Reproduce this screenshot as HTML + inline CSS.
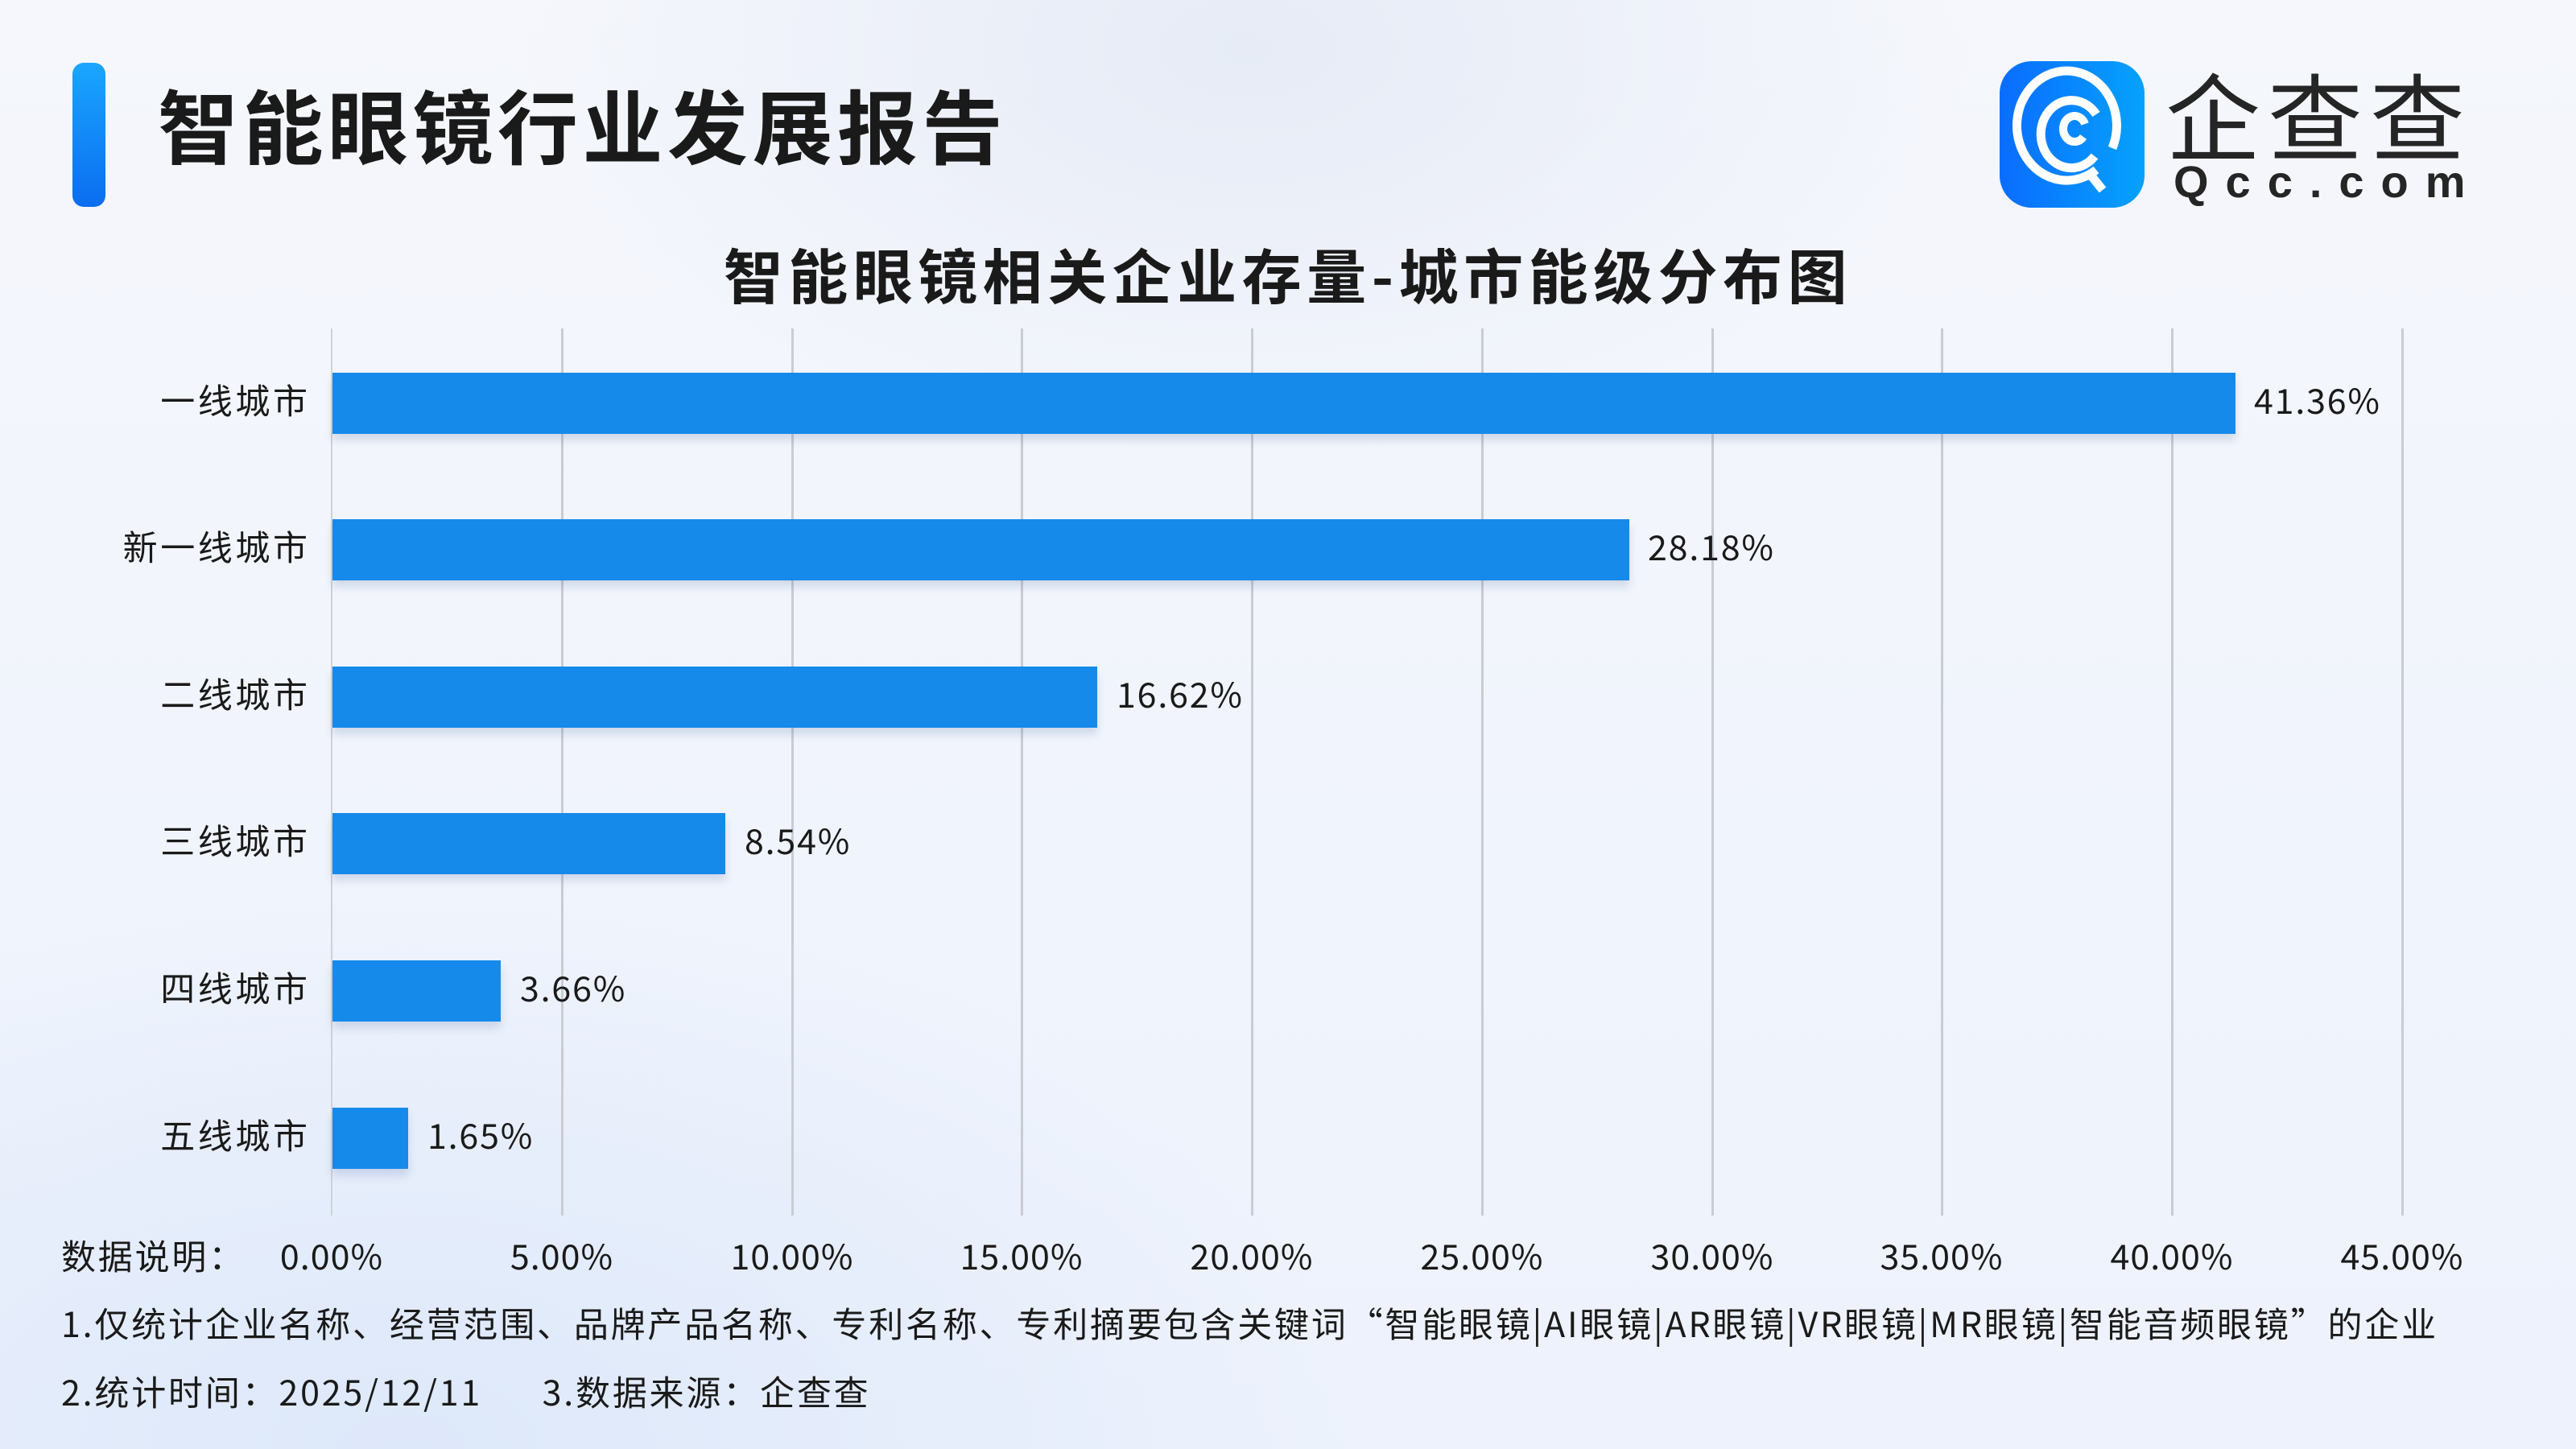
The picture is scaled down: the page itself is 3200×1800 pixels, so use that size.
<!DOCTYPE html>
<html><head><meta charset="utf-8"><style>
*{margin:0;padding:0;box-sizing:border-box}
body{width:3200px;height:1800px;overflow:hidden;position:relative;font-family:"Liberation Sans","Noto Sans CJK SC",sans-serif;color:#1a1a1a;
background:radial-gradient(ellipse 900px 500px at 1550px 60px,#e6ebf6 0%,rgba(230,235,246,0) 100%),radial-gradient(ellipse 1200px 700px at 500px 1800px,#dde8fa 0%,rgba(221,232,250,0) 100%),linear-gradient(180deg,#f5f7fc 0%,#edf2fc 100%)}
.a{position:absolute;white-space:nowrap}
.grid{position:absolute;top:408px;height:1102px;width:3px;background:#c9ccd3}
.bar{position:absolute;left:413px;height:76px;background:#168aea;box-shadow:0 8px 10px rgba(60,90,150,0.18)}
.lab{position:absolute;right:2818px;font-size:43px;line-height:50px;font-family:"Noto Sans CJK SC",sans-serif;letter-spacing:3.6px;margin-right:-3.6px}
.val{position:absolute;font-size:43px;line-height:50px;font-family:"Noto Sans CJK SC",sans-serif;letter-spacing:1.8px}
.tick{position:absolute;top:1534px;font-size:43px;line-height:50px;font-family:"Noto Sans CJK SC",sans-serif;transform:translateX(-50%);letter-spacing:1px}
.fn{position:absolute;left:76px;font-size:43px;line-height:50px;font-family:"Noto Sans CJK SC",sans-serif;letter-spacing:2.8px;white-space:nowrap}
</style></head><body>
<div class="a" style="left:90px;top:78px;width:41px;height:179px;border-radius:14px;background:linear-gradient(180deg,#1aa6ff,#0b6df0)"></div>
<div class="a" style="left:196px;top:88px;font-size:100px;line-height:130px;font-weight:bold;font-family:'Noto Sans CJK SC',sans-serif;letter-spacing:5.5px">智能眼镜行业发展报告</div>
<div class="a" style="left:2484px;top:76px;width:180px;height:182px;border-radius:40px;background:linear-gradient(90deg,#0a6cff,#06a2fc)">
<svg width="180" height="182" viewBox="0 0 180 182"><g fill="none" stroke="#fff" stroke-linecap="butt"><path d="M120 135 A62 68 0 1 1 140 108" stroke-width="11"/><path d="M118 118 A38 42 0 1 1 120 66" stroke-width="11"/><path d="M104 94 A14 16 0 1 1 106 78" stroke-width="10"/><path d="M112 140 L128 160" stroke-width="11"/></g></svg></div>
<div class="a" style="left:2690px;top:70px;font-size:118px;line-height:140px;font-family:'Noto Sans CJK SC',sans-serif;color:#252525;letter-spacing:9px">企查查</div>
<div class="a" style="left:2700px;top:196px;font-size:56px;line-height:60px;font-weight:bold;color:#252525;letter-spacing:21px">Qcc.com</div>
<div class="a" style="left:0;width:3200px;top:292px;text-align:center;font-size:74px;line-height:96px;font-weight:bold;font-family:'Noto Sans CJK SC',sans-serif;letter-spacing:6.5px">智能眼镜相关企业存量-城市能级分布图</div>
<div class="grid" style="left:411px;width:2px;background:#cfd2da"></div>
<div class="grid" style="left:697px"></div><div class="grid" style="left:983px"></div><div class="grid" style="left:1268px"></div><div class="grid" style="left:1554px"></div><div class="grid" style="left:1840px"></div><div class="grid" style="left:2126px"></div><div class="grid" style="left:2411px"></div><div class="grid" style="left:2697px"></div><div class="grid" style="left:2983px"></div>
<div class="bar" style="top:463px;width:2364px"></div>
<div class="bar" style="top:645px;width:1611px"></div>
<div class="bar" style="top:828px;width:950px"></div>
<div class="bar" style="top:1010px;width:488px"></div>
<div class="bar" style="top:1193px;width:209px"></div>
<div class="bar" style="top:1376px;width:94px"></div>
<div class="lab" style="top:471px">一线城市</div>
<div class="lab" style="top:653px">新一线城市</div>
<div class="lab" style="top:836px">二线城市</div>
<div class="lab" style="top:1018px">三线城市</div>
<div class="lab" style="top:1201px">四线城市</div>
<div class="lab" style="top:1384px">五线城市</div>
<div class="val" style="left:2800px;top:471px">41.36%</div>
<div class="val" style="left:2047px;top:653px">28.18%</div>
<div class="val" style="left:1387px;top:836px">16.62%</div>
<div class="val" style="left:925px;top:1018px">8.54%</div>
<div class="val" style="left:646px;top:1201px">3.66%</div>
<div class="val" style="left:531px;top:1384px">1.65%</div>
<div class="fn" style="top:1534px">数据说明：</div>
<div class="tick" style="left:412px">0.00%</div><div class="tick" style="left:698px">5.00%</div><div class="tick" style="left:984px">10.00%</div><div class="tick" style="left:1269px">15.00%</div><div class="tick" style="left:1555px">20.00%</div><div class="tick" style="left:1841px">25.00%</div><div class="tick" style="left:2127px">30.00%</div><div class="tick" style="left:2412px">35.00%</div><div class="tick" style="left:2698px">40.00%</div><div class="tick" style="left:2984px">45.00%</div>
<div class="fn" style="top:1618px">1.仅统计企业名称、经营范围、品牌产品名称、专利名称、专利摘要包含关键词“智能眼镜|AI眼镜|AR眼镜|VR眼镜|MR眼镜|智能音频眼镜”的企业</div>
<div class="fn" style="top:1703px">2.统计时间：2025/12/11&nbsp;&nbsp;&nbsp;&nbsp;&nbsp;&nbsp;3.数据来源：企查查</div>
</body></html>
